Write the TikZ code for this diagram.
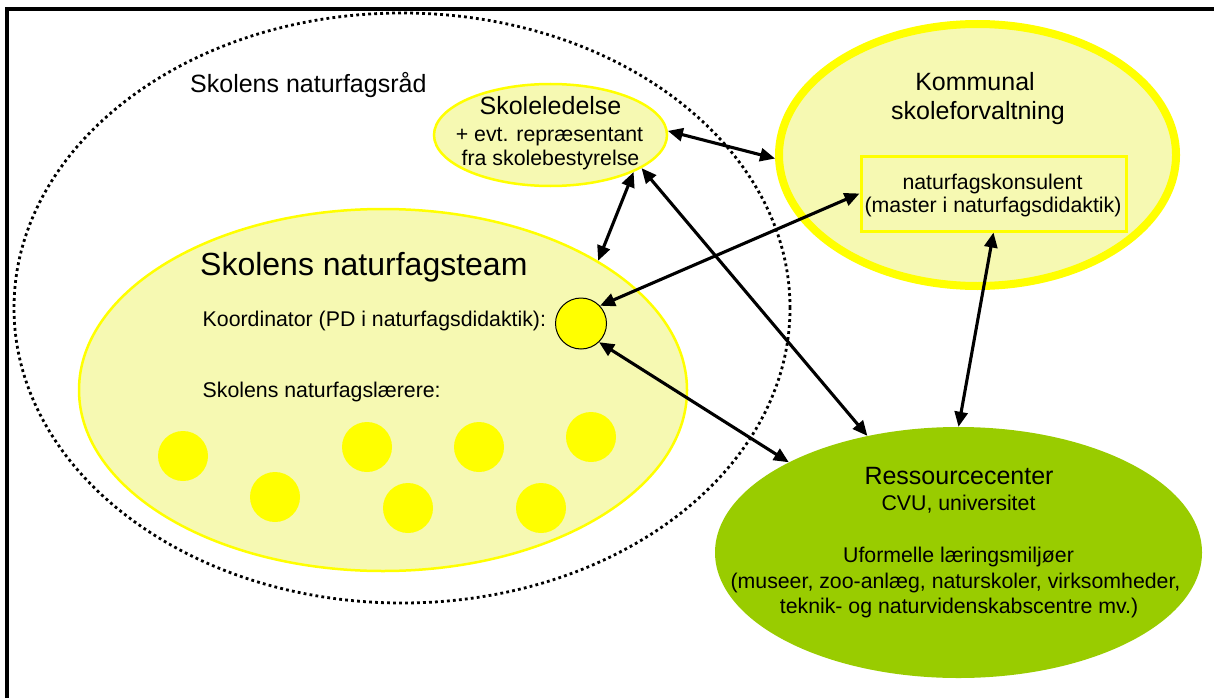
\documentclass[tikz,border=0pt]{standalone}
\usepackage{fontspec}
\setmainfont{Liberation Sans}
\usetikzlibrary{shapes.geometric,arrows.meta}
\definecolor{lyel}{RGB}{246,249,178}
\definecolor{yel}{RGB}{255,255,0}
\definecolor{grn}{RGB}{153,204,0}
\tikzset{
  txtM/.style={font=\fontsize{21.3}{25}\selectfont, inner sep=0pt},
  txtB/.style={font=\fontsize{25}{30}\selectfont, inner sep=0pt},
  txtH/.style={font=\fontsize{32}{38}\selectfont, inner sep=0pt},
  ellbox/.style={ellipse, inner sep=0pt},
  tdot/.style={circle, fill=yel, minimum size=50pt, inner sep=0pt},
  conn/.style={line width=3.1pt, {Triangle[length=15pt,width=13pt]}-{Triangle[length=15pt,width=13pt]}},
}
\begin{document}
\begin{tikzpicture}[x=1pt,y=-1pt]
\useasboundingbox (0,0) rectangle (1214,698);
% frame
\draw[line width=4pt] (7,698) -- (7,9) -- (1214,9);

% Skolens naturfagsraad (dotted)
\node[ellbox, draw=black, line width=2.8pt, dash pattern=on 2.8pt off 3.2pt,
      minimum width=776pt, minimum height=590pt] (rad) at (402,308) {};
\node[txtB, anchor=base west] (radt) at (190,93) {Skolens naturfagsråd};

% Skoleledelse
\node[ellbox, fill=lyel, draw=yel, line width=2.5pt,
      minimum width=233pt, minimum height=102pt] (sl) at (550.5,135) {};
\node[txtB, anchor=base] (sl1) at (550.5,114) {Skoleledelse};
\node[txtM, anchor=base] (sl2) at (549.5,141) {+ evt. repræsentant};
\node[txtM, anchor=base] (sl3) at (550.5,165) {fra skolebestyrelse};

% Kommunal skoleforvaltning
\node[ellbox, fill=lyel, draw=yel, line width=8pt,
      minimum width=397pt, minimum height=262pt] (ko) at (977.5,155) {};
\node[txtB, anchor=base] (ko1) at (975,91) {Kommunal};
\node[txtB, anchor=base] (ko2) at (978,119) {skoleforvaltning};
\node[draw=yel, fill=lyel, line width=3pt, minimum width=265pt, minimum height=75pt,
      inner sep=0pt] (nk) at (993.5,193.5) {};
\node[txtM, anchor=base] (nk1) at (992.5,189) {naturfagskonsulent};
\node[txtM, anchor=base] (nk2) at (993,212) {(master i naturfagsdidaktik)};

% Skolens naturfagsteam
\node[ellbox, fill=lyel, draw=yel, line width=2.5pt,
      minimum width=608pt, minimum height=362pt] (team) at (383,390) {};
\node[txtH, anchor=base west] (teamt) at (200,275) {Skolens naturfagsteam};
\node[txtM, anchor=base west] (koord) at (202.5,326.7) {Koordinator (PD i naturfagsdidaktik):};
\node[circle, fill=yel, draw=black, line width=1pt, minimum size=51pt, inner sep=0pt] (kc) at (581,323.5) {};
\node[txtM, anchor=base west] (lae) at (202.5,397) {Skolens naturfagslærere:};
\node[tdot] (d1) at (183,456) {};
\node[tdot] (d2) at (275,497) {};
\node[tdot] (d3) at (367,447) {};
\node[tdot] (d4) at (408,508) {};
\node[tdot] (d5) at (479,447) {};
\node[tdot] (d6) at (541,508) {};
\node[tdot] (d7) at (591,437) {};

% Ressourcecenter
\node[ellbox, fill=grn, minimum width=487pt, minimum height=251pt] (rc) at (958.5,552.5) {};
\node[txtB, anchor=base] (rc1) at (959,484) {Ressourcecenter};
\node[txtM, anchor=base] (rc2) at (958.5,510) {CVU, universitet};
\node[txtM, anchor=base] (rc3) at (958.5,562) {Uformelle læringsmiljøer};
\node[txtM, anchor=base] (rc4) at (955.5,588) {(museer, zoo-anlæg, naturskoler, virksomheder,};
\node[txtM, anchor=base] (rc5) at (959,613) {teknik- og naturvidenskabscentre mv.)};

% connectors
\draw[conn] (sl.2) -- (ko.181);
\draw[conn] (sl.-24.6) -- (team.31.5);
\draw[conn] (sl.-20.8) -- (rc.128.8);
\draw[conn] (kc.43) -- (nk.west);
\draw[conn] (kc.-46) -- (rc.152);
\draw[conn] (nk.south) -- (rc.north);
\end{tikzpicture}
\end{document}
